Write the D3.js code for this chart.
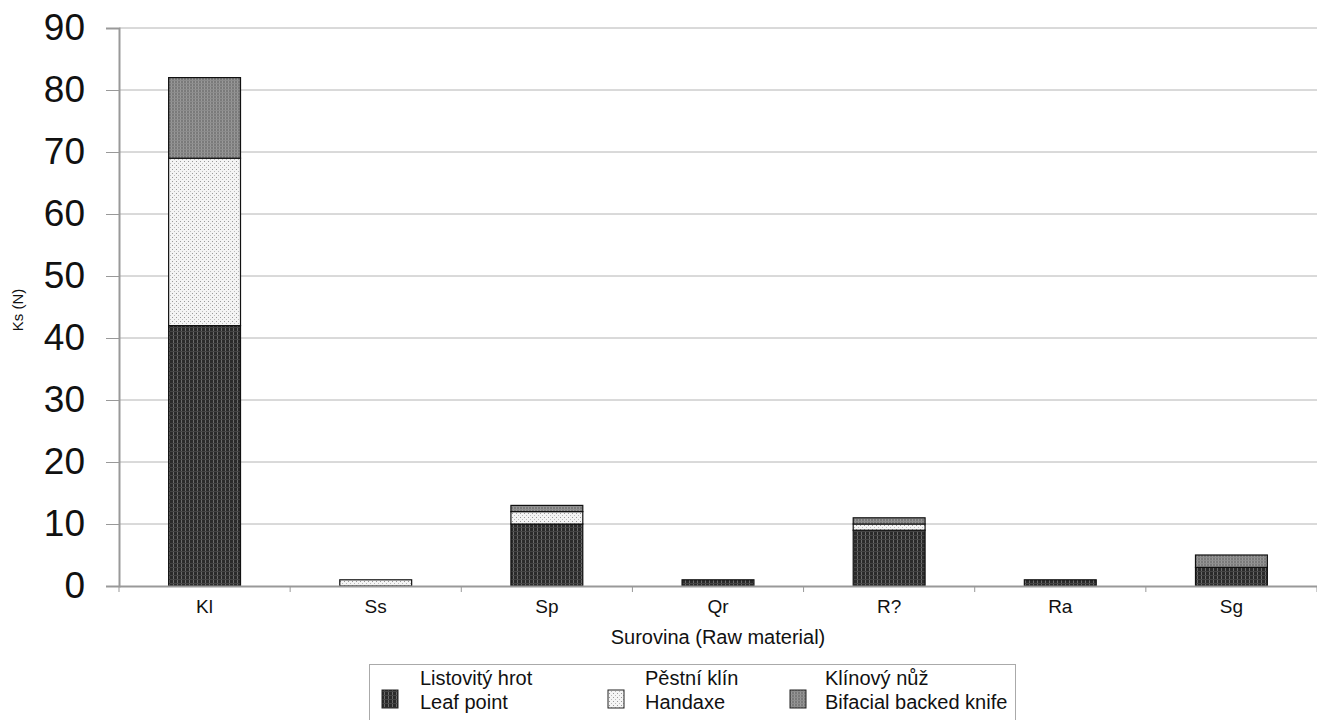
<!DOCTYPE html>
<html>
<head>
<meta charset="utf-8">
<script src="https://cdn.jsdelivr.net/npm/d3@7"></script>
<style>
  body { margin: 0; background: #fff; }
  text { font-family: "Liberation Sans", Arial, sans-serif; fill: #111; }
</style>
</head>
<body>
<div class="chart"></div>
<script>
// raw material categories
var categories = ["Kl", "Ss", "Sp", "Qr", "R?", "Ra", "Sg"];
// counts per artefact type
var leafPoint = [42, 0, 10, 1, 9, 1, 3];
var handaxe   = [27, 1, 2, 0, 1, 0, 0];
var knife     = [13, 0, 1, 0, 1, 0, 2];
var seriesKeys = ["leaf", "handaxe", "knife"];
var seriesLabels = [["Listovitý hrot", "Leaf point"], ["Pěstní klín", "Handaxe"], ["Klínový nůž", "Bifacial backed knife"]];
var yTicks = [0, 10, 20, 30, 40, 50, 60, 70, 80, 90];

var svgWidth = 1317, svgHeight = 720;
var margin = { top: 28, right: 0, bottom: 134, left: 119 };
var width = svgWidth - margin.left - margin.right;
var height = svgHeight - margin.top - margin.bottom;

var svg = d3.select(".chart").append("svg")
  .attr("width", svgWidth)
  .attr("height", svgHeight);

// fill patterns
var defs = svg.append("defs");
var pLeaf = defs.append("pattern").attr("id", "p-leaf")
  .attr("patternUnits", "userSpaceOnUse").attr("width", 4).attr("height", 4);
pLeaf.append("rect").attr("width", 4).attr("height", 4).attr("fill", "#2a2a2a");
pLeaf.append("rect").attr("x", 2).attr("width", 1).attr("height", 4).attr("fill", "#6a6a6a");
pLeaf.append("rect").attr("y", 3).attr("width", 4).attr("height", 1).attr("fill", "#444");

var pHand = defs.append("pattern").attr("id", "p-handaxe")
  .attr("patternUnits", "userSpaceOnUse").attr("width", 4).attr("height", 4);
pHand.append("rect").attr("width", 4).attr("height", 4).attr("fill", "#f4f4f4");
pHand.append("rect").attr("x", 1).attr("y", 1).attr("width", 1).attr("height", 1).attr("fill", "#999");
pHand.append("rect").attr("x", 3).attr("y", 3).attr("width", 1).attr("height", 1).attr("fill", "#bbb");

var pKnife = defs.append("pattern").attr("id", "p-knife")
  .attr("patternUnits", "userSpaceOnUse").attr("width", 3).attr("height", 3);
pKnife.append("rect").attr("width", 3).attr("height", 3).attr("fill", "#7a7a7a");
pKnife.append("rect").attr("x", 1).attr("width", 1).attr("height", 3).attr("fill", "#999");
pKnife.append("rect").attr("y", 1).attr("width", 3).attr("height", 1).attr("fill", "#8c8c8c");

var fills = { leaf: "url(#p-leaf)", handaxe: "url(#p-handaxe)", knife: "url(#p-knife)" };

var chartGroup = svg.append("g")
  .attr("transform", `translate(${margin.left}, ${margin.top})`);

var xScale = d3.scaleBand().domain(categories).range([0, width]).paddingInner(0.58).paddingOuter(0.29);
var yScale = d3.scaleLinear().domain([0, 90]).range([height, 0]);

// gridlines
chartGroup.append("g")
  .selectAll("line")
  .data(yTicks.filter(d => d > 0))
  .enter().append("line")
  .attr("x1", 0).attr("x2", width)
  .attr("y1", d => yScale(d)).attr("y2", d => yScale(d))
  .attr("stroke", "#b4b4b4").attr("stroke-width", 1);

// y axis
var yAxis = d3.axisLeft(yScale).tickValues(yTicks).tickSize(13).tickPadding(21);
var yG = chartGroup.append("g").call(yAxis);
yG.select(".domain").attr("stroke", "#999").attr("stroke-width", 2);
yG.selectAll(".tick line").attr("stroke", "#999");
yG.selectAll("text").style("font-size", "37px").attr("fill", "#111");

// stacked data
var rows = categories.map((c, i) => ({ cat: c, leaf: leafPoint[i], handaxe: handaxe[i], knife: knife[i] }));
var stacked = d3.stack().keys(seriesKeys)(rows);

chartGroup.append("g").selectAll("g")
  .data(stacked)
  .enter().append("g")
  .attr("fill", d => fills[d.key])
  .selectAll("rect")
  .data(d => d.filter(s => s[1] - s[0] > 0))
  .enter().append("rect")
  .attr("x", d => xScale(d.data.cat))
  .attr("y", d => yScale(d[1]))
  .attr("width", xScale.bandwidth())
  .attr("height", d => yScale(d[0]) - yScale(d[1]))
  .attr("stroke", "#111")
  .attr("stroke-width", 1.2);

// x axis
var xG = chartGroup.append("g").attr("transform", `translate(0, ${height})`)
  .call(d3.axisBottom(xScale).tickSize(0).tickPadding(14));
xG.select(".domain").attr("stroke", "#999").attr("stroke-width", 2);
xG.selectAll("text").style("font-size", "19px");
var step = xScale.step();
xG.selectAll(".sep").data(d3.range(categories.length + 1))
  .enter().append("line")
  .attr("x1", i => i * step).attr("x2", i => i * step)
  .attr("y1", 0).attr("y2", 6)
  .attr("stroke", "#999");

// axis titles
svg.append("text")
  .attr("x", margin.left + width / 2).attr("y", 644)
  .attr("text-anchor", "middle").style("font-size", "20px")
  .text("Surovina (Raw material)");

svg.append("text")
  .attr("transform", "translate(23, 310) rotate(-90)")
  .attr("text-anchor", "middle").style("font-size", "15px")
  .text("Ks (N)");

// legend
var legend = svg.append("g");
legend.append("rect")
  .attr("x", 369.5).attr("y", 664.5).attr("width", 646).attr("height", 70)
  .attr("fill", "#fff").attr("stroke", "#aaa");
var legendX = [382, 608, 790];
seriesKeys.forEach(function(k, i) {
  var g = legend.append("g").attr("transform", `translate(${legendX[i]}, 0)`);
  g.append("rect").attr("x", 0).attr("y", 690).attr("width", 16).attr("height", 18)
    .attr("fill", fills[k]).attr("stroke", "#222");
  g.append("text").attr("x", [38, 37, 35][i]).attr("y", 685).style("font-size", "20px").text(seriesLabels[i][0]);
  g.append("text").attr("x", [38, 37, 35][i]).attr("y", 709).style("font-size", "20px").text(seriesLabels[i][1]);
});
</script>
</body>
</html>
